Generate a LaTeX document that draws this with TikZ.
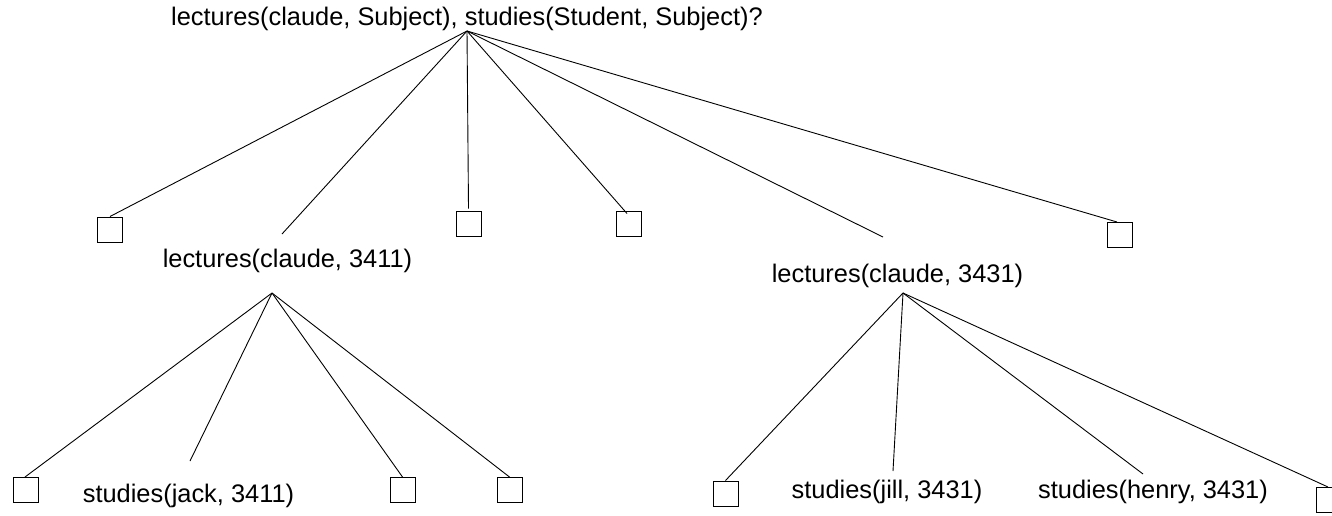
\documentclass[tikz,border=0pt]{standalone}
\usepackage{fontspec}
\setmainfont{Liberation Sans}
\begin{document}
\begin{tikzpicture}[x=1pt,y=-1pt,
  lbl/.style={inner sep=0pt,anchor=base,font=\fontsize{25.4}{30}\selectfont},
  leaf/.style={draw,line width=1pt,minimum size=25pt,inner sep=0pt},
  edge/.style={line width=0.9pt}]
\useasboundingbox (0,0) rectangle (1332,515);
\clip (0,0) rectangle (1332,515);
% texts
\node[lbl] (top) at (467,25) {lectures(claude, Subject), studies(Student, Subject)?};
\node[lbl] (lec1) at (287.5,267) {lectures(claude, 3411)};
\node[lbl] (lec2) at (897.5,282) {lectures(claude, 3431)};
\node[lbl] (jack) at (188.5,502) {studies(jack, 3411)};
\node[lbl] (jill) at (887,498) {studies(jill, 3431)};
\node[lbl] (henry) at (1153,498) {studies(henry, 3431)};
% apexes
\coordinate (a0) at (467,31);
\coordinate (a1) at (272,293);
\coordinate (a2) at (903,293);
% leaves
\node[leaf] (s1) at (110,229.5) {};
\node[leaf] (s2) at (468.5,223.5) {};
\node[leaf] (s3) at (628.5,223.5) {};
\node[leaf] (s4) at (1119.5,235) {};
\node[leaf] (s5) at (26,490) {};
\node[leaf] (s6) at (402.5,490) {};
\node[leaf] (s7) at (509.5,490) {};
\node[leaf] (s8) at (725.5,493.5) {};
\node[leaf] (s9) at (1328.5,500) {};
% edges
\draw[edge] (a0) -- (s1.north);
\draw[edge] (a0) -- ([xshift=-5.5pt,yshift=33pt]lec1.base);
\draw[edge] (a0) -- ([yshift=2pt]s2.north);
\draw[edge] (a0) -- ([xshift=-1.5pt,yshift=-3pt]s3.north);
\draw[edge] (a0) -- ([xshift=-14.5pt,yshift=45pt]lec2.base);
\draw[edge] (a0) -- ([xshift=-2.5pt]s4.north);
\draw[edge] (a1) -- ([xshift=-1pt]s5.north);
\draw[edge] (a1) -- ([xshift=1.5pt,yshift=41pt]jack.base);
\draw[edge] (a1) -- (s6.north);
\draw[edge] (a1) -- (s7.north);
\draw[edge] (a2) -- (s8.north);
\draw[edge] (a2) -- ([xshift=6pt,yshift=27pt]jill.base);
\draw[edge] (a2) -- ([xshift=-10pt,yshift=24pt]henry.base);
\draw[edge] (a2) -- ([xshift=-0.5pt]s9.north);
\end{tikzpicture}
\end{document}
